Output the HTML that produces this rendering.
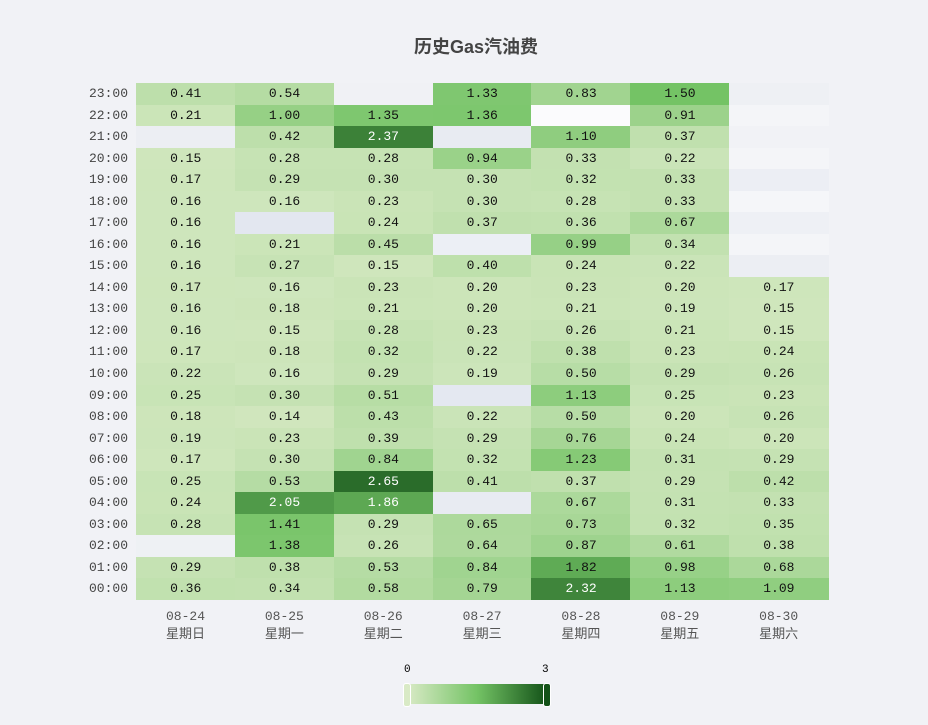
<!DOCTYPE html>
<html><head><meta charset="utf-8"><style>
body{margin:0;background:#f1f2f6;width:928px;height:725px;position:relative;overflow:hidden;font-family:"Liberation Sans","Noto Sans CJK SC",sans-serif}
.c{position:absolute;text-align:center;font-family:"Liberation Mono","Noto Sans CJK SC",monospace;font-size:13px;color:#111;line-height:21.54px}
.t{position:absolute;font-family:"Liberation Mono",monospace;font-size:13px;color:#444;text-align:right;width:60px}
.x{position:absolute;text-align:center;width:99px;font-size:13px;color:#555;font-family:"Liberation Mono","Noto Sans CJK SC",monospace;line-height:18px}
</style></head><body>
<div style="position:absolute;left:0;width:952px;top:33px;text-align:center;font-size:18px;font-weight:bold;color:#444;font-family:'Liberation Sans','Noto Sans CJK SC',sans-serif">历史Gas汽油费</div>
<div id="g"></div>
<div style="position:absolute;left:404px;top:664px;font-size:11px;font-family:'Liberation Mono',monospace">0</div>
<div style="position:absolute;left:542px;top:664px;font-size:11px;font-family:'Liberation Mono',monospace">3</div>
<div style="position:absolute;left:407px;top:684px;width:140px;height:20px;background:linear-gradient(90deg,#d9eac6,#74c365 50%,#135218)"></div>
<div style="position:absolute;left:403px;top:683px;width:6px;height:22px;border-radius:3px;background:#d9eac6;border:1px solid #fff"></div>
<div style="position:absolute;left:543px;top:683px;width:6px;height:22px;border-radius:3px;background:#135218;border:1px solid #fff"></div>
<script>
var d=[
["0.41","0.54","#f0f1f5","1.33","0.83","1.50","#eef0f4"],
["0.21","1.00","1.35","1.36","#fbfbfd","0.91","#f4f5f8"],
["#eceef3","0.42","2.37","#e8ebf2","1.10","0.37","#f1f2f6"],
["0.15","0.28","0.28","0.94","0.33","0.22","#f4f5f8"],
["0.17","0.29","0.30","0.30","0.32","0.33","#eceef4"],
["0.16","0.16","0.23","0.30","0.28","0.33","#f5f6f9"],
["0.16","#e3e7f0","0.24","0.37","0.36","0.67","#eef0f5"],
["0.16","0.21","0.45","#eceff5","0.99","0.34","#f4f5f8"],
["0.16","0.27","0.15","0.40","0.24","0.22","#eceef3"],
["0.17","0.16","0.23","0.20","0.23","0.20","0.17"],
["0.16","0.18","0.21","0.20","0.21","0.19","0.15"],
["0.16","0.15","0.28","0.23","0.26","0.21","0.15"],
["0.17","0.18","0.32","0.22","0.38","0.23","0.24"],
["0.22","0.16","0.29","0.19","0.50","0.29","0.26"],
["0.25","0.30","0.51","#e4e8f1","1.13","0.25","0.23"],
["0.18","0.14","0.43","0.22","0.50","0.20","0.26"],
["0.19","0.23","0.39","0.29","0.76","0.24","0.20"],
["0.17","0.30","0.84","0.32","1.23","0.31","0.29"],
["0.25","0.53","2.65","0.41","0.37","0.29","0.42"],
["0.24","2.05","1.86","#e8ebf2","0.67","0.31","0.33"],
["0.28","1.41","0.29","0.65","0.73","0.32","0.35"],
["#eef1f4","1.38","0.26","0.64","0.87","0.61","0.38"],
["0.29","0.38","0.53","0.84","1.82","0.98","0.68"],
["0.36","0.34","0.58","0.79","2.32","1.13","1.09"]];
var S=[[0,[217,234,198]],[1.5,[116,195,101]],[3,[19,82,24]]];
function col(v){var a=v<=1.5?S[0]:S[1],b=v<=1.5?S[1]:S[2];var t=(v-a[0])/(b[0]-a[0]);return"rgb("+a[1].map((x,i)=>Math.round(x+(b[1][i]-x)*t)).join(",")+")";}
var h="",W=98.86,H=21.54;
for(var r=0;r<24;r++){var y=83+r*H;var hr=23-r;h+='<div class="t" style="left:68px;top:'+(y+3)+'px">'+(hr<10?"0":"")+hr+':00</div>';
for(var c=0;c<7;c++){var v=d[r][c],x=136+c*W;
if(v[0]=="#")h+='<div class="c" style="left:'+x+'px;top:'+y+'px;width:'+(W+0.5)+'px;height:'+(H+0.5)+'px;background:'+v+'"></div>';
else{var n=+v;h+='<div class="c" style="left:'+x+'px;top:'+y+'px;width:'+(W+0.5)+'px;height:'+(H+0.5)+'px;background:'+col(n)+';color:'+(n>1.84?"#fff":"#111")+'">'+v+'</div>';}}}
var dd=["08-24","08-25","08-26","08-27","08-28","08-29","08-30"],wk=["星期日","星期一","星期二","星期三","星期四","星期五","星期六"];
for(var c=0;c<7;c++)h+='<div class="x" style="left:'+(136+c*W)+'px;top:608px">'+dd[c]+'<br>'+wk[c]+'</div>';
document.getElementById("g").innerHTML=h;
</script>
</body></html>
